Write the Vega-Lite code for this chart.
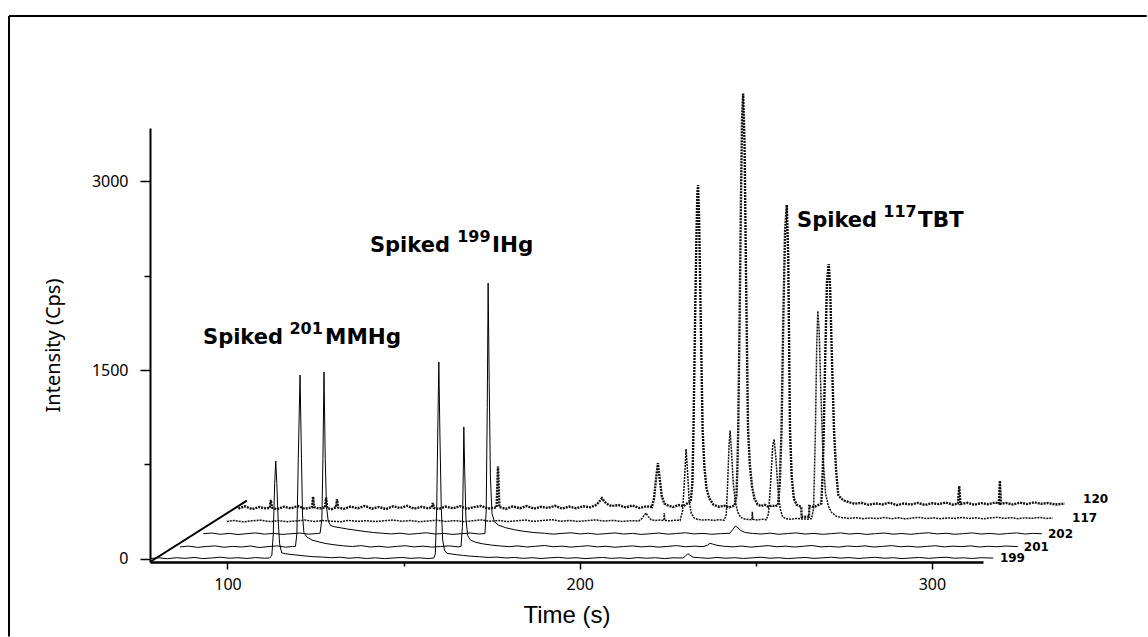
{
 "$schema": "https://vega.github.io/schema/vega-lite/v6.json",
 "width": 833, "height": 434,
 "padding": {"left": 8, "top": 15, "right": 0, "bottom": 0},
 "background": "white",
 "config": {"view": {"stroke": null}},
 "datasets": {
  "frame": [
   {"t": 37.97, "v": 4310, "t2": 361, "v2": 4310},
   {"t": 37.97, "v": 4310, "t2": 37.97, "v2": -615}
  ],
  "diag": [{"t": 78, "v": -24, "t2": 105.5, "v2": 463}],
  "tr": [
   {"s":"199","t":78,"v":4},{"s":"199","t":80.5,"v":9},{"s":"199","t":83,"v":2},{"s":"199","t":85.5,"v":10},{"s":"199","t":88,"v":5},{"s":"199","t":90.5,"v":12},{"s":"199","t":93,"v":3},{"s":"199","t":95.5,"v":8},{"s":"199","t":98,"v":14},{"s":"199","t":100.5,"v":6},{"s":"199","t":103,"v":10},{"s":"199","t":105.5,"v":4},{"s":"199","t":108,"v":11},{"s":"199","t":110.5,"v":6},{"s":"199","t":112,"v":8},{"s":"199","t":112.6,"v":30},{"s":"199","t":113,"v":200},{"s":"199","t":113.4,"v":600},{"s":"199","t":113.7,"v":778},{"s":"199","t":114,"v":600},{"s":"199","t":114.4,"v":300},{"s":"199","t":114.8,"v":120},{"s":"199","t":115.4,"v":48},{"s":"199","t":116.5,"v":42},{"s":"199","t":118,"v":36},{"s":"199","t":120,"v":30},{"s":"199","t":122,"v":24},{"s":"199","t":124.5,"v":18},{"s":"199","t":127,"v":15},{"s":"199","t":129.5,"v":10},{"s":"199","t":132,"v":14},{"s":"199","t":134.5,"v":6},{"s":"199","t":137,"v":11},{"s":"199","t":139.5,"v":4},{"s":"199","t":142,"v":9},{"s":"199","t":144.5,"v":3},{"s":"199","t":147,"v":8},{"s":"199","t":149.5,"v":12},{"s":"199","t":152,"v":5},{"s":"199","t":154.5,"v":9},{"s":"199","t":157,"v":3},{"s":"199","t":158.6,"v":8},{"s":"199","t":159,"v":40},{"s":"199","t":159.4,"v":400},{"s":"199","t":159.7,"v":1000},{"s":"199","t":160,"v":1563},{"s":"199","t":160.3,"v":1000},{"s":"199","t":160.7,"v":400},{"s":"199","t":161.1,"v":150},{"s":"199","t":161.6,"v":70},{"s":"199","t":162.3,"v":45},{"s":"199","t":163.5,"v":40},{"s":"199","t":165,"v":34},{"s":"199","t":167,"v":28},{"s":"199","t":169,"v":22},{"s":"199","t":171.5,"v":18},{"s":"199","t":174,"v":12},{"s":"199","t":176.5,"v":15},{"s":"199","t":179,"v":8},{"s":"199","t":181.5,"v":12},{"s":"199","t":184,"v":5},{"s":"199","t":186.5,"v":10},{"s":"199","t":189,"v":4},{"s":"199","t":191.5,"v":9},{"s":"199","t":194,"v":13},{"s":"199","t":196.5,"v":6},{"s":"199","t":199,"v":10},{"s":"199","t":201.5,"v":3},{"s":"199","t":204,"v":8},{"s":"199","t":206.5,"v":12},{"s":"199","t":209,"v":5},{"s":"199","t":211.5,"v":9},{"s":"199","t":214,"v":4},{"s":"199","t":216.5,"v":11},{"s":"199","t":219,"v":6},{"s":"199","t":221.5,"v":10},{"s":"199","t":224,"v":3},{"s":"199","t":226.5,"v":9},{"s":"199","t":229.2,"v":8},{"s":"199","t":230,"v":22},{"s":"199","t":230.7,"v":42},{"s":"199","t":231.3,"v":30},{"s":"199","t":232.2,"v":14},{"s":"199","t":234,"v":10},{"s":"199","t":236.5,"v":5},{"s":"199","t":239,"v":12},{"s":"199","t":241.5,"v":6},{"s":"199","t":244,"v":10},{"s":"199","t":246.5,"v":4},{"s":"199","t":249,"v":9},{"s":"199","t":251.5,"v":14},{"s":"199","t":254,"v":6},{"s":"199","t":256.5,"v":10},{"s":"199","t":259,"v":3},{"s":"199","t":261.5,"v":8},{"s":"199","t":264,"v":12},{"s":"199","t":266.5,"v":5},{"s":"199","t":269,"v":9},{"s":"199","t":271.5,"v":14},{"s":"199","t":274,"v":7},{"s":"199","t":276.5,"v":11},{"s":"199","t":279,"v":4},{"s":"199","t":281.5,"v":9},{"s":"199","t":284,"v":13},{"s":"199","t":286.5,"v":6},{"s":"199","t":289,"v":10},{"s":"199","t":291.5,"v":3},{"s":"199","t":294,"v":8},{"s":"199","t":296.5,"v":12},{"s":"199","t":299,"v":5},{"s":"199","t":301.5,"v":10},{"s":"199","t":304,"v":14},{"s":"199","t":306.5,"v":6},{"s":"199","t":309,"v":9},{"s":"199","t":311.5,"v":4},{"s":"199","t":314,"v":10},{"s":"199","t":317.4,"v":7},
   {"s":"201","t":86.5,"v":96},{"s":"201","t":89,"v":102},{"s":"201","t":91.5,"v":92},{"s":"201","t":94,"v":99},{"s":"201","t":96.5,"v":104},{"s":"201","t":99,"v":93},{"s":"201","t":101.5,"v":100},{"s":"201","t":104,"v":95},{"s":"201","t":106.5,"v":103},{"s":"201","t":109,"v":91},{"s":"201","t":111.5,"v":98},{"s":"201","t":114,"v":104},{"s":"201","t":116.5,"v":94},{"s":"201","t":118.5,"v":99},{"s":"201","t":119.3,"v":100},{"s":"201","t":119.7,"v":200},{"s":"201","t":120.1,"v":800},{"s":"201","t":120.6,"v":1460},{"s":"201","t":121,"v":800},{"s":"201","t":121.3,"v":350},{"s":"201","t":121.7,"v":210},{"s":"201","t":122.5,"v":175},{"s":"201","t":124,"v":150},{"s":"201","t":126,"v":135},{"s":"201","t":128,"v":122},{"s":"201","t":130.5,"v":112},{"s":"201","t":133,"v":104},{"s":"201","t":135.5,"v":99},{"s":"201","t":138,"v":106},{"s":"201","t":140.5,"v":95},{"s":"201","t":143,"v":101},{"s":"201","t":145.5,"v":93},{"s":"201","t":148,"v":100},{"s":"201","t":150.5,"v":105},{"s":"201","t":153,"v":96},{"s":"201","t":155.5,"v":102},{"s":"201","t":158,"v":94},{"s":"201","t":160.5,"v":99},{"s":"201","t":163,"v":104},{"s":"201","t":165.5,"v":96},{"s":"201","t":166.3,"v":100},{"s":"201","t":166.7,"v":260},{"s":"201","t":166.95,"v":700},{"s":"201","t":167.1,"v":1048},{"s":"201","t":167.35,"v":700},{"s":"201","t":167.7,"v":320},{"s":"201","t":168.2,"v":185},{"s":"201","t":169,"v":150},{"s":"201","t":170.5,"v":132},{"s":"201","t":172.5,"v":120},{"s":"201","t":175,"v":110},{"s":"201","t":177.5,"v":103},{"s":"201","t":180,"v":98},{"s":"201","t":182.5,"v":104},{"s":"201","t":185,"v":95},{"s":"201","t":187.5,"v":101},{"s":"201","t":190,"v":107},{"s":"201","t":192.5,"v":97},{"s":"201","t":195,"v":102},{"s":"201","t":197.5,"v":94},{"s":"201","t":200,"v":100},{"s":"201","t":202.5,"v":105},{"s":"201","t":205,"v":96},{"s":"201","t":207.5,"v":101},{"s":"201","t":210,"v":93},{"s":"201","t":212.5,"v":99},{"s":"201","t":215,"v":104},{"s":"201","t":217.5,"v":96},{"s":"201","t":220,"v":101},{"s":"201","t":222.5,"v":94},{"s":"201","t":225,"v":100},{"s":"201","t":227.5,"v":106},{"s":"201","t":230,"v":97},{"s":"201","t":232.5,"v":102},{"s":"201","t":235,"v":98},{"s":"201","t":236.2,"v":108},{"s":"201","t":237,"v":125},{"s":"201","t":237.8,"v":118},{"s":"201","t":239,"v":108},{"s":"201","t":241,"v":101},{"s":"201","t":243.5,"v":96},{"s":"201","t":246,"v":103},{"s":"201","t":248.5,"v":94},{"s":"201","t":251,"v":100},{"s":"201","t":253.5,"v":106},{"s":"201","t":256,"v":97},{"s":"201","t":258.5,"v":102},{"s":"201","t":261,"v":95},{"s":"201","t":263.5,"v":101},{"s":"201","t":266,"v":107},{"s":"201","t":268.5,"v":96},{"s":"201","t":271,"v":100},{"s":"201","t":273.5,"v":94},{"s":"201","t":276,"v":103},{"s":"201","t":278.5,"v":98},{"s":"201","t":281,"v":104},{"s":"201","t":283.5,"v":95},{"s":"201","t":286,"v":100},{"s":"201","t":288.5,"v":106},{"s":"201","t":291,"v":97},{"s":"201","t":293.5,"v":101},{"s":"201","t":296,"v":94},{"s":"201","t":298.5,"v":100},{"s":"201","t":301,"v":105},{"s":"201","t":303.5,"v":96},{"s":"201","t":306,"v":102},{"s":"201","t":308.5,"v":98},{"s":"201","t":311,"v":104},{"s":"201","t":313.5,"v":95},{"s":"201","t":316,"v":101},{"s":"201","t":318.5,"v":97},{"s":"201","t":321,"v":103},{"s":"201","t":324.4,"v":98},
   {"s":"202","t":93.1,"v":200},{"s":"202","t":95.5,"v":206},{"s":"202","t":98,"v":196},{"s":"202","t":100.5,"v":203},{"s":"202","t":103,"v":194},{"s":"202","t":105.5,"v":201},{"s":"202","t":108,"v":207},{"s":"202","t":110.5,"v":197},{"s":"202","t":113,"v":203},{"s":"202","t":115.5,"v":195},{"s":"202","t":118,"v":200},{"s":"202","t":120.5,"v":206},{"s":"202","t":123,"v":197},{"s":"202","t":125.5,"v":202},{"s":"202","t":126.3,"v":205},{"s":"202","t":126.8,"v":320},{"s":"202","t":127.1,"v":800},{"s":"202","t":127.4,"v":1484},{"s":"202","t":127.75,"v":800},{"s":"202","t":128.1,"v":420},{"s":"202","t":128.6,"v":300},{"s":"202","t":129.3,"v":265},{"s":"202","t":130.5,"v":255},{"s":"202","t":132,"v":248},{"s":"202","t":134,"v":238},{"s":"202","t":136.5,"v":228},{"s":"202","t":139,"v":218},{"s":"202","t":141.5,"v":210},{"s":"202","t":144,"v":204},{"s":"202","t":146.5,"v":199},{"s":"202","t":149,"v":205},{"s":"202","t":151.5,"v":196},{"s":"202","t":154,"v":202},{"s":"202","t":156.5,"v":208},{"s":"202","t":159,"v":198},{"s":"202","t":161.5,"v":203},{"s":"202","t":164,"v":195},{"s":"202","t":166.5,"v":201},{"s":"202","t":169,"v":206},{"s":"202","t":171.5,"v":198},{"s":"202","t":173.1,"v":202},{"s":"202","t":173.45,"v":380},{"s":"202","t":173.75,"v":1200},{"s":"202","t":174,"v":2190},{"s":"202","t":174.3,"v":1400},{"s":"202","t":174.65,"v":650},{"s":"202","t":175.1,"v":360},{"s":"202","t":175.8,"v":295},{"s":"202","t":177,"v":268},{"s":"202","t":179,"v":248},{"s":"202","t":181.5,"v":232},{"s":"202","t":184,"v":220},{"s":"202","t":187,"v":210},{"s":"202","t":190,"v":204},{"s":"202","t":192.5,"v":197},{"s":"202","t":195,"v":203},{"s":"202","t":197.5,"v":208},{"s":"202","t":200,"v":199},{"s":"202","t":202.5,"v":204},{"s":"202","t":205,"v":196},{"s":"202","t":207.5,"v":201},{"s":"202","t":210,"v":207},{"s":"202","t":212.5,"v":198},{"s":"202","t":215,"v":203},{"s":"202","t":217.5,"v":195},{"s":"202","t":220,"v":200},{"s":"202","t":222.5,"v":206},{"s":"202","t":225,"v":197},{"s":"202","t":227.5,"v":202},{"s":"202","t":230,"v":208},{"s":"202","t":232.5,"v":199},{"s":"202","t":235,"v":203},{"s":"202","t":237.5,"v":196},{"s":"202","t":240,"v":201},{"s":"202","t":242.6,"v":204},{"s":"202","t":243.5,"v":235},{"s":"202","t":244.2,"v":262},{"s":"202","t":244.9,"v":248},{"s":"202","t":245.8,"v":225},{"s":"202","t":247,"v":210},{"s":"202","t":249,"v":203},{"s":"202","t":251.5,"v":198},{"s":"202","t":254,"v":205},{"s":"202","t":256.5,"v":196},{"s":"202","t":259,"v":202},{"s":"202","t":261.5,"v":207},{"s":"202","t":264,"v":198},{"s":"202","t":266.5,"v":203},{"s":"202","t":269,"v":196},{"s":"202","t":271.5,"v":201},{"s":"202","t":274,"v":207},{"s":"202","t":276.5,"v":198},{"s":"202","t":279,"v":203},{"s":"202","t":281.5,"v":195},{"s":"202","t":284,"v":201},{"s":"202","t":286.5,"v":206},{"s":"202","t":289,"v":197},{"s":"202","t":291.5,"v":202},{"s":"202","t":294,"v":196},{"s":"202","t":296.5,"v":203},{"s":"202","t":299,"v":208},{"s":"202","t":301.5,"v":199},{"s":"202","t":304,"v":204},{"s":"202","t":306.5,"v":196},{"s":"202","t":309,"v":201},{"s":"202","t":311.5,"v":207},{"s":"202","t":314,"v":198},{"s":"202","t":316.5,"v":203},{"s":"202","t":319,"v":196},{"s":"202","t":321.5,"v":202},{"s":"202","t":324,"v":207},{"s":"202","t":326.5,"v":198},{"s":"202","t":328.5,"v":203},{"s":"202","t":331.2,"v":200},
   {"s":"117","t":99.8,"v":298},{"s":"117","t":102,"v":305},{"s":"117","t":104.5,"v":295},{"s":"117","t":107,"v":303},{"s":"117","t":109.5,"v":308},{"s":"117","t":112,"v":297},{"s":"117","t":114.5,"v":304},{"s":"117","t":117,"v":296},{"s":"117","t":119.5,"v":302},{"s":"117","t":122,"v":309},{"s":"117","t":124.5,"v":298},{"s":"117","t":127,"v":305},{"s":"117","t":129.5,"v":300},{"s":"117","t":132,"v":296},{"s":"117","t":134.5,"v":306},{"s":"117","t":137,"v":299},{"s":"117","t":139.5,"v":304},{"s":"117","t":142,"v":297},{"s":"117","t":144.5,"v":303},{"s":"117","t":147,"v":309},{"s":"117","t":149.5,"v":299},{"s":"117","t":152,"v":305},{"s":"117","t":154.5,"v":296},{"s":"117","t":157,"v":302},{"s":"117","t":159.5,"v":308},{"s":"117","t":162,"v":298},{"s":"117","t":164.5,"v":304},{"s":"117","t":167,"v":297},{"s":"117","t":169.5,"v":303},{"s":"117","t":172,"v":310},{"s":"117","t":174.5,"v":300},{"s":"117","t":177,"v":305},{"s":"117","t":179.5,"v":297},{"s":"117","t":182,"v":303},{"s":"117","t":184.5,"v":309},{"s":"117","t":187,"v":299},{"s":"117","t":189.5,"v":305},{"s":"117","t":192,"v":312},{"s":"117","t":194.5,"v":300},{"s":"117","t":197,"v":306},{"s":"117","t":199.5,"v":298},{"s":"117","t":202,"v":304},{"s":"117","t":204.5,"v":310},{"s":"117","t":207,"v":301},{"s":"117","t":209.5,"v":306},{"s":"117","t":212,"v":298},{"s":"117","t":214.5,"v":304},{"s":"117","t":216.8,"v":302},{"s":"117","t":217.6,"v":320},{"s":"117","t":218.3,"v":345},{"s":"117","t":218.8,"v":365},{"s":"117","t":219.4,"v":338},{"s":"117","t":220.2,"v":312},{"s":"117","t":221.5,"v":305},{"s":"117","t":222.8,"v":309},{"s":"117","t":223.9,"v":304},{"s":"117","t":224,"v":365},{"s":"117","t":224.15,"v":306},{"s":"117","t":225.5,"v":303},{"s":"117","t":227,"v":308},{"s":"117","t":228.5,"v":306},{"s":"117","t":229.2,"v":380},{"s":"117","t":229.7,"v":600},{"s":"117","t":230.2,"v":873},{"s":"117","t":230.6,"v":700},{"s":"117","t":231.1,"v":450},{"s":"117","t":231.7,"v":360},{"s":"117","t":232.5,"v":325},{"s":"117","t":233.5,"v":314},{"s":"117","t":235,"v":309},{"s":"117","t":236.5,"v":312},{"s":"117","t":238,"v":306},{"s":"117","t":239.5,"v":311},{"s":"117","t":241,"v":308},{"s":"117","t":241.6,"v":350},{"s":"117","t":242,"v":600},{"s":"117","t":242.4,"v":900},{"s":"117","t":242.7,"v":1020},{"s":"117","t":243.1,"v":850},{"s":"117","t":243.6,"v":600},{"s":"117","t":244.2,"v":450},{"s":"117","t":244.9,"v":370},{"s":"117","t":245.7,"v":330},{"s":"117","t":247,"v":316},{"s":"117","t":248.9,"v":312},{"s":"117","t":249,"v":375},{"s":"117","t":249.15,"v":314},{"s":"117","t":250.5,"v":310},{"s":"117","t":252,"v":316},{"s":"117","t":253,"v":312},{"s":"117","t":253.6,"v":360},{"s":"117","t":254.2,"v":600},{"s":"117","t":254.8,"v":900},{"s":"117","t":255.2,"v":950},{"s":"117","t":255.7,"v":800},{"s":"117","t":256.3,"v":550},{"s":"117","t":256.9,"v":400},{"s":"117","t":257.6,"v":335},{"s":"117","t":258.5,"v":320},{"s":"117","t":260,"v":315},{"s":"117","t":261.5,"v":322},{"s":"117","t":263,"v":318},{"s":"117","t":264.5,"v":316},{"s":"117","t":265.8,"v":320},{"s":"117","t":266.4,"v":400},{"s":"117","t":266.9,"v":1000},{"s":"117","t":267.3,"v":1700},{"s":"117","t":267.6,"v":1968},{"s":"117","t":268,"v":1800},{"s":"117","t":268.5,"v":1300},{"s":"117","t":269.1,"v":800},{"s":"117","t":269.8,"v":520},{"s":"117","t":270.6,"v":420},{"s":"117","t":271.5,"v":370},{"s":"117","t":272.8,"v":340},{"s":"117","t":274.5,"v":328},{"s":"117","t":276.5,"v":322},{"s":"117","t":278.5,"v":328},{"s":"117","t":280.5,"v":319},{"s":"117","t":282.5,"v":326},{"s":"117","t":284.5,"v":321},{"s":"117","t":286.5,"v":329},{"s":"117","t":288.5,"v":320},{"s":"117","t":290.5,"v":327},{"s":"117","t":292.5,"v":318},{"s":"117","t":294.5,"v":325},{"s":"117","t":296.5,"v":330},{"s":"117","t":298.5,"v":321},{"s":"117","t":300.5,"v":327},{"s":"117","t":302.5,"v":319},{"s":"117","t":304.5,"v":326},{"s":"117","t":306.5,"v":322},{"s":"117","t":308.5,"v":330},{"s":"117","t":310.5,"v":321},{"s":"117","t":312.5,"v":327},{"s":"117","t":314.5,"v":319},{"s":"117","t":316.5,"v":326},{"s":"117","t":318.5,"v":331},{"s":"117","t":320.5,"v":322},{"s":"117","t":322.5,"v":328},{"s":"117","t":324.5,"v":320},{"s":"117","t":326.5,"v":327},{"s":"117","t":328.5,"v":323},{"s":"117","t":330.5,"v":330},{"s":"117","t":332.5,"v":322},{"s":"117","t":334.3,"v":326},
   {"s":"120","t":103.1,"v":400},{"s":"120","t":105,"v":418},{"s":"120","t":107,"v":396},{"s":"120","t":109,"v":412},{"s":"120","t":111,"v":401},{"s":"120","t":112,"v":405},{"s":"120","t":112.3,"v":468},{"s":"120","t":112.6,"v":408},{"s":"120","t":114,"v":395},{"s":"120","t":116,"v":415},{"s":"120","t":118,"v":402},{"s":"120","t":120,"v":420},{"s":"120","t":122,"v":398},{"s":"120","t":124,"v":410},{"s":"120","t":124.3,"v":494},{"s":"120","t":124.6,"v":412},{"s":"120","t":126,"v":400},{"s":"120","t":127.7,"v":410},{"s":"120","t":128,"v":487},{"s":"120","t":128.3,"v":405},{"s":"120","t":129.5,"v":395},{"s":"120","t":130.8,"v":410},{"s":"120","t":131.1,"v":474},{"s":"120","t":131.4,"v":408},{"s":"120","t":133,"v":398},{"s":"120","t":135,"v":416},{"s":"120","t":137,"v":402},{"s":"120","t":139,"v":421},{"s":"120","t":141,"v":399},{"s":"120","t":143,"v":413},{"s":"120","t":145,"v":396},{"s":"120","t":147,"v":418},{"s":"120","t":149,"v":404},{"s":"120","t":151,"v":422},{"s":"120","t":153,"v":399},{"s":"120","t":155,"v":414},{"s":"120","t":157,"v":402},{"s":"120","t":158,"v":410},{"s":"120","t":158.3,"v":445},{"s":"120","t":158.6,"v":405},{"s":"120","t":160,"v":397},{"s":"120","t":162,"v":416},{"s":"120","t":164,"v":402},{"s":"120","t":166,"v":419},{"s":"120","t":168,"v":398},{"s":"120","t":170,"v":412},{"s":"120","t":172,"v":420},{"s":"120","t":174,"v":400},{"s":"120","t":176.4,"v":410},{"s":"120","t":176.8,"v":733},{"s":"120","t":177.2,"v":412},{"s":"120","t":179,"v":398},{"s":"120","t":181,"v":417},{"s":"120","t":183,"v":403},{"s":"120","t":185,"v":420},{"s":"120","t":187,"v":399},{"s":"120","t":189,"v":414},{"s":"120","t":191,"v":405},{"s":"120","t":193,"v":422},{"s":"120","t":195,"v":400},{"s":"120","t":197,"v":416},{"s":"120","t":199,"v":403},{"s":"120","t":201,"v":418},{"s":"120","t":203,"v":410},{"s":"120","t":204.8,"v":430},{"s":"120","t":206.3,"v":482},{"s":"120","t":207.5,"v":440},{"s":"120","t":209,"v":420},{"s":"120","t":211,"v":428},{"s":"120","t":213,"v":410},{"s":"120","t":215,"v":424},{"s":"120","t":217,"v":405},{"s":"120","t":219,"v":418},{"s":"120","t":220.5,"v":412},{"s":"120","t":221.1,"v":480},{"s":"120","t":221.6,"v":620},{"s":"120","t":222.2,"v":760},{"s":"120","t":222.7,"v":640},{"s":"120","t":223.3,"v":500},{"s":"120","t":224,"v":440},{"s":"120","t":225,"v":425},{"s":"120","t":226.5,"v":412},{"s":"120","t":228,"v":428},{"s":"120","t":229.5,"v":418},{"s":"120","t":230.5,"v":440},{"s":"120","t":231.5,"v":455},{"s":"120","t":232,"v":600},{"s":"120","t":232.3,"v":1024},{"s":"120","t":232.7,"v":1800},{"s":"120","t":233.1,"v":2500},{"s":"120","t":233.4,"v":2900},{"s":"120","t":233.6,"v":2968},{"s":"120","t":233.9,"v":2700},{"s":"120","t":234.3,"v":2000},{"s":"120","t":234.9,"v":1024},{"s":"120","t":235.4,"v":730},{"s":"120","t":236,"v":560},{"s":"120","t":236.8,"v":480},{"s":"120","t":238,"v":430},{"s":"120","t":239.5,"v":415},{"s":"120","t":241,"v":422},{"s":"120","t":242.5,"v":410},{"s":"120","t":244,"v":425},{"s":"120","t":244.5,"v":500},{"s":"120","t":244.8,"v":750},{"s":"120","t":245,"v":1024},{"s":"120","t":245.4,"v":1900},{"s":"120","t":245.8,"v":2900},{"s":"120","t":246.1,"v":3500},{"s":"120","t":246.4,"v":3694},{"s":"120","t":246.8,"v":3300},{"s":"120","t":247.2,"v":2300},{"s":"120","t":247.8,"v":1024},{"s":"120","t":248.3,"v":750},{"s":"120","t":248.9,"v":580},{"s":"120","t":249.6,"v":480},{"s":"120","t":250.5,"v":432},{"s":"120","t":251.5,"v":420},{"s":"120","t":252.5,"v":430},{"s":"120","t":253.5,"v":415},{"s":"120","t":254.5,"v":424},{"s":"120","t":255.5,"v":418},{"s":"120","t":256.3,"v":430},{"s":"120","t":256.8,"v":600},{"s":"120","t":257.3,"v":1024},{"s":"120","t":257.8,"v":1900},{"s":"120","t":258.3,"v":2600},{"s":"120","t":258.8,"v":2810},{"s":"120","t":259.2,"v":2400},{"s":"120","t":259.7,"v":1024},{"s":"120","t":260.2,"v":650},{"s":"120","t":260.8,"v":480},{"s":"120","t":261.6,"v":430},{"s":"120","t":262.4,"v":420},{"s":"120","t":262.9,"v":412},{"s":"120","t":263,"v":335},{"s":"120","t":265.1,"v":335},{"s":"120","t":265.2,"v":420},{"s":"120","t":266.5,"v":412},{"s":"120","t":267.5,"v":425},{"s":"120","t":268.6,"v":440},{"s":"120","t":269,"v":700},{"s":"120","t":269.3,"v":1024},{"s":"120","t":269.7,"v":1600},{"s":"120","t":270.2,"v":2200},{"s":"120","t":270.7,"v":2341},{"s":"120","t":271.1,"v":2150},{"s":"120","t":271.6,"v":1600},{"s":"120","t":272.2,"v":1024},{"s":"120","t":272.8,"v":700},{"s":"120","t":273.4,"v":510},{"s":"120","t":274.2,"v":480},{"s":"120","t":275.2,"v":462},{"s":"120","t":276.5,"v":450},{"s":"120","t":278,"v":438},{"s":"120","t":280,"v":446},{"s":"120","t":282,"v":430},{"s":"120","t":284,"v":441},{"s":"120","t":286,"v":433},{"s":"120","t":288,"v":447},{"s":"120","t":290,"v":428},{"s":"120","t":292,"v":440},{"s":"120","t":294,"v":432},{"s":"120","t":296,"v":445},{"s":"120","t":298,"v":429},{"s":"120","t":300,"v":442},{"s":"120","t":302,"v":436},{"s":"120","t":304,"v":448},{"s":"120","t":306,"v":431},{"s":"120","t":307.4,"v":440},{"s":"120","t":307.75,"v":579},{"s":"120","t":308.1,"v":436},{"s":"120","t":310,"v":446},{"s":"120","t":312,"v":430},{"s":"120","t":314,"v":443},{"s":"120","t":316,"v":435},{"s":"120","t":318,"v":448},{"s":"120","t":319,"v":440},{"s":"120","t":319.3,"v":621},{"s":"120","t":319.6,"v":438},{"s":"120","t":321,"v":445},{"s":"120","t":323,"v":432},{"s":"120","t":325,"v":447},{"s":"120","t":327,"v":436},{"s":"120","t":329,"v":450},{"s":"120","t":331,"v":438},{"s":"120","t":333,"v":444},{"s":"120","t":335,"v":432},{"s":"120","t":337.7,"v":440}
  ],
  "lab": [
   {"txt":"120","t":342.9,"v":476},
   {"txt":"117","t":339.8,"v":325},
   {"txt":"202","t":332.95,"v":198},
   {"txt":"201","t":326.1,"v":95},
   {"txt":"199","t":319.3,"v":8}
  ],
  "main": [
   {"txt":"Spiked","t":93.05,"v":1706},
   {"txt":"Spiked","t":140.45,"v":2436},
   {"txt":"Spiked","t":261.7,"v":2635}
  ],
  "sup": [
   {"txt":"201","t":117.6,"v":1786},
   {"txt":"199","t":165.2,"v":2516},
   {"txt":"117","t":286.2,"v":2715}
  ],
  "tail": [
   {"txt":"MMHg","t":127.68,"v":1706},
   {"txt":"IHg","t":175.1,"v":2436},
   {"txt":"TBT","t":296.05,"v":2635}
  ]
 },
 "encoding": {
  "x": {"field": "t", "type": "quantitative",
   "scale": {"domain": [78, 314.5], "nice": false, "zero": false},
   "axis": {
    "values": [100, 150, 200, 250, 300], "format": "d",
    "labelExpr": "datum.value % 100 === 0 ? datum.label : ''",
    "tickSize": {"condition": {"test": "datum.value % 100 === 0", "value": 7}, "value": 4},
    "domainColor": "black", "domainWidth": 2.5, "tickColor": "black", "tickWidth": 1.5,
    "grid": false,
    "labelFont": "Noto Sans", "labelFontSize": 16, "labelColor": "black", "labelPadding": 7,
    "title": "Time (s)", "titleFont": "Liberation Sans", "titleFontSize": 24, "titleFontWeight": "normal",
    "titleColor": "black", "titleBaseline": "alphabetic", "titleY": 60
   }
  },
  "y": {"field": "v", "type": "quantitative",
   "scale": {"domain": [-24, 3421], "nice": false, "zero": false},
   "axis": {
    "values": [0, 750, 1500, 2250, 3000], "format": "d",
    "labelExpr": "datum.value % 1500 === 0 ? datum.label : ''",
    "tickSize": {"condition": {"test": "datum.value % 1500 === 0", "value": 10}, "value": 6},
    "domainColor": "black", "domainWidth": 2, "tickColor": "black", "tickWidth": 1.5,
    "grid": false,
    "labelFont": "Noto Sans", "labelFontSize": 16, "labelColor": "black", "labelPadding": 12,
    "title": "Intensity (Cps)", "titleFont": "Noto Sans", "titleFontSize": 20, "titleFontWeight": "normal",
    "titleColor": "black", "titleAngle": -90, "titleAlign": "center", "titleBaseline": "middle",
    "titleX": -97, "titleY": 217
   }
  }
 },
 "layer": [
  {
   "data": {"name": "frame"},
   "mark": {"type": "rule", "color": "black", "strokeWidth": 2},
   "encoding": {"x2": {"field": "t2"}, "y2": {"field": "v2"}}
  },
  {
   "data": {"name": "diag"},
   "mark": {"type": "rule", "color": "black", "strokeWidth": 2},
   "encoding": {"x2": {"field": "t2"}, "y2": {"field": "v2"}}
  },
  {
   "data": {"name": "tr"},
   "transform": [{"filter": "datum.s === '199' || datum.s === '201' || datum.s === '202'"}],
   "mark": {"type": "line", "color": "black", "strokeWidth": 1, "clip": false},
   "encoding": {"detail": {"field": "s"}}
  },
  {
   "data": {"name": "tr"},
   "transform": [{"filter": "datum.s === '117'"}],
   "mark": {"type": "line", "color": "#111", "strokeWidth": 1.5, "strokeDash": [2, 1], "clip": false},
   "encoding": {}
  },
  {
   "data": {"name": "tr"},
   "transform": [{"filter": "datum.s === '120'"}],
   "mark": {"type": "line", "color": "#111", "strokeWidth": 2.4, "strokeDash": [2, 1], "clip": false},
   "encoding": {}
  },
  {
   "data": {"name": "lab"},
   "mark": {"type": "text", "align": "left", "baseline": "middle", "font": "DejaVu Sans", "fontWeight": "bold", "fontSize": 12, "color": "black"},
   "encoding": {"text": {"field": "txt"}}
  },
  {
   "data": {"name": "main"},
   "mark": {"type": "text", "align": "left", "baseline": "alphabetic", "font": "DejaVu Sans", "fontWeight": "bold", "fontSize": 21, "color": "black"},
   "encoding": {"text": {"field": "txt"}}
  },
  {
   "data": {"name": "sup"},
   "mark": {"type": "text", "align": "left", "baseline": "alphabetic", "font": "DejaVu Sans", "fontWeight": "bold", "fontSize": 16, "color": "black"},
   "encoding": {"text": {"field": "txt"}}
  },
  {
   "data": {"name": "tail"},
   "mark": {"type": "text", "align": "left", "baseline": "alphabetic", "font": "DejaVu Sans", "fontWeight": "bold", "fontSize": 21.5, "color": "black"},
   "encoding": {"text": {"field": "txt"}}
  }
 ]
}
